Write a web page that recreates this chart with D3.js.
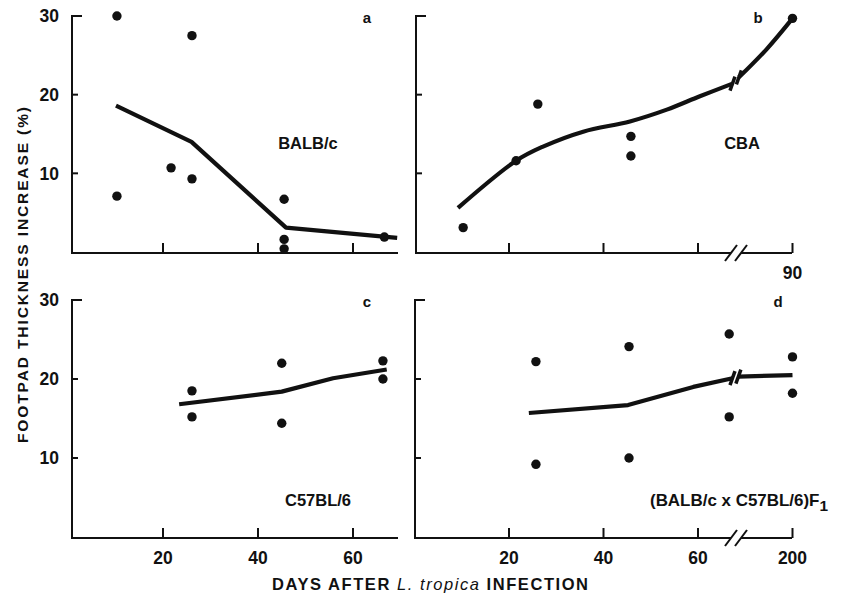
<!DOCTYPE html>
<html>
<head>
<meta charset="utf-8">
<script src="https://cdn.jsdelivr.net/npm/d3@7"></script>
<style>
  html, body { margin: 0; padding: 0; background: #fff; }
  svg { display: block; }
  text { font-family: "Liberation Sans", Arial, Helvetica, sans-serif; font-weight: bold; fill: #111; }
</style>
</head>
<body>
<svg id="chart" width="841" height="599"></svg>
<script>
// ---------------- DATA ----------------
const yTicks = [10, 20, 30];
const xTicksLeft = [20, 40, 60];
const xTicksRight = [20, 40, 60];
const breakTickB = 90;
const breakTickD = 200;

// Panel a: BALB/c
const pointsA = [[10.3, 30], [10.3, 7.1], [26.1, 27.5], [21.7, 10.7], [26.1, 9.3], [45.5, 6.7], [45.5, 1.6], [45.5, 0.4], [66.6, 1.9]];
const lineA = [[10.1, 18.6], [26, 14], [45.9, 3.1], [69.3, 1.8]];

// Panel b: CBA
const pointsB = [[10.3, 3.1], [21.5, 11.6], [26.1, 18.8], [45.8, 14.7], [45.8, 12.2], [90, 29.7]];
const lineB1 = [[9.2, 5.6], [21.5, 11.6], [27.2, 13.4], [35.7, 15.3], [45.6, 16.6], [53.4, 18.1], [60.4, 19.8], [67.3, 21.4]];
const lineB2 = [[69.2, 22.2], [80, 25.8], [90, 29.7]];

// Panel c: C57BL/6
const pointsC = [[26.1, 18.5], [26.1, 15.2], [45, 22], [45, 14.4], [66.3, 22.3], [66.3, 20.0]];
const lineC = [[23.4, 16.8], [45, 18.4], [55.8, 20.1], [67.1, 21.2]];

// Panel d: (BALB/c x C57BL/6)F1
const pointsD = [[25.7, 22.2], [25.7, 9.2], [45.4, 24.1], [45.4, 10.0], [66.6, 25.7], [66.6, 15.2], [200, 22.8], [200, 18.2]];
const lineD1 = [[24.2, 15.7], [45.2, 16.7], [59, 19.0], [67.3, 20.1]];
const lineD2 = [[74, 20.3], [200, 20.5]];

const strains = ["BALB/c", "CBA", "C57BL/6", "(BALB/c x C57BL/6)F"];
const panelLetters = ["a", "b", "c", "d"];
const yTitle = "FOOTPAD THICKNESS INCREASE (%)";

// ---------------- SCALES ----------------
const svg = d3.select("#chart");
const ink = "#111";

const xLeft = d3.scaleLinear().domain([0, 70]).range([68, 400.5]);
const xB = d3.scaleLinear().domain([0, 68, 90]).range([414.5, 735.8, 792.5]);
const xD = d3.scaleLinear().domain([0, 68, 200]).range([414.5, 735.8, 792.5]);
const yTop = d3.scaleLinear().domain([0, 30]).range([252, 16]);
const yBot = d3.scaleLinear().domain([0, 30]).range([537, 300]);

const panels = [
  { x: xLeft, y: yTop, pts: pointsA, lines: [lineA], curve: d3.curveLinear, x0: 72, x1: 398, ticks: xTicksLeft, xLabels: false, yLabels: true, brk: null, letter: panelLetters[0] },
  { x: xB, y: yTop, pts: pointsB, lines: [lineB1, lineB2], curve: d3.curveCatmullRom, x0: 416, x1: 792, ticks: xTicksRight.concat([breakTickB]), xLabels: false, yLabels: false, brk: breakTickB, letter: panelLetters[1] },
  { x: xLeft, y: yBot, pts: pointsC, lines: [lineC], curve: d3.curveLinear, x0: 72, x1: 398, ticks: xTicksLeft, xLabels: true, yLabels: true, brk: null, letter: panelLetters[2] },
  { x: xD, y: yBot, pts: pointsD, lines: [lineD1, lineD2], curve: d3.curveLinear, x0: 415, x1: 792, ticks: xTicksRight.concat([breakTickD]), xLabels: true, yLabels: false, brk: breakTickD, letter: panelLetters[3] }
];

panels.forEach((p, i) => {
  const g = svg.append("g");
  const yAxisBase = p.y(0) + 1;

  // y axis line with inward ticks
  g.append("line").attr("x1", p.x0).attr("x2", p.x0)
    .attr("y1", p.y(30) - 1).attr("y2", yAxisBase + 1)
    .attr("stroke", ink).attr("stroke-width", 2);
  g.selectAll(".yt").data(yTicks).enter().append("line")
    .attr("x1", p.x0).attr("x2", d => p.x0 + (d === 30 ? 10 : 6))
    .attr("y1", d => p.y(d)).attr("y2", d => p.y(d))
    .attr("stroke", ink).attr("stroke-width", 2);
  if (p.yLabels) {
    g.selectAll(".yl").data(yTicks).enter().append("text")
      .attr("x", p.x0 - 13).attr("y", d => p.y(d))
      .attr("dy", "0.36em").attr("text-anchor", "end")
      .attr("font-size", 17.5).text(d => d);
  }

  // x axis line (with break if needed)
  if (p.brk === null) {
    g.append("line").attr("x1", p.x0 - 1).attr("x2", p.x1)
      .attr("y1", yAxisBase).attr("y2", yAxisBase)
      .attr("stroke", ink).attr("stroke-width", 2);
  } else {
    g.append("line").attr("x1", p.x0 - 1).attr("x2", 731)
      .attr("y1", yAxisBase).attr("y2", yAxisBase).attr("stroke", ink).attr("stroke-width", 2);
    g.append("line").attr("x1", 741).attr("x2", p.x1)
      .attr("y1", yAxisBase).attr("y2", yAxisBase).attr("stroke", ink).attr("stroke-width", 2);
    [731, 741].forEach(bx => {
      g.append("line").attr("x1", bx - 6).attr("x2", bx + 6)
        .attr("y1", yAxisBase + 8).attr("y2", yAxisBase - 8)
        .attr("stroke", ink).attr("stroke-width", 2);
    });
  }
  g.selectAll(".xt").data(p.ticks).enter().append("line")
    .attr("x1", d => p.x(d)).attr("x2", d => p.x(d))
    .attr("y1", yAxisBase).attr("y2", yAxisBase - 10)
    .attr("stroke", ink).attr("stroke-width", 2);
  const labelTicks = p.xLabels ? p.ticks : (p.brk !== null ? [p.brk] : []);
  g.selectAll(".xl").data(labelTicks).enter().append("text")
    .attr("x", d => p.x(d)).attr("y", yAxisBase + 20)
    .attr("dy", "0.36em").attr("text-anchor", "middle")
    .attr("font-size", 17.5).text(d => d);

  // lines
  const lineGen = d3.line().x(d => p.x(d[0])).y(d => p.y(d[1])).curve(p.curve);
  p.lines.forEach(ld => {
    g.append("path").attr("d", lineGen(ld))
      .attr("fill", "none").attr("stroke", ink).attr("stroke-width", 4.2)
      .attr("stroke-linejoin", "round");
  });
  // break slashes on the curve
  if (p.lines.length > 1) {
    const end1 = p.lines[0][p.lines[0].length - 1];
    const st2 = p.lines[1][0];
    [[p.x(end1[0]), p.y(end1[1])], [p.x(st2[0]), p.y(st2[1])]].forEach(([cx, cy]) => {
      g.append("line").attr("x1", cx - 2.5).attr("x2", cx + 2.5)
        .attr("y1", cy + 7).attr("y2", cy - 7)
        .attr("stroke", ink).attr("stroke-width", 3.5);
    });
  }

  // points
  g.selectAll(".pt").data(p.pts).enter().append("circle")
    .attr("cx", d => p.x(d[0])).attr("cy", d => p.y(d[1]))
    .attr("r", 4.7).attr("fill", ink);

  // panel letter
  g.append("text").attr("x", i % 2 === 0 ? 367 : (i === 1 ? 758 : 778))
    .attr("y", p.y(30) + 2).attr("dy", "0.36em").attr("text-anchor", "middle")
    .attr("font-size", 15).text(p.letter);
});

// strain labels
const sFont = 16.5;
svg.append("text").attr("x", 308).attr("y", yTop(13.8)).attr("dy", "0.36em")
  .attr("text-anchor", "middle").attr("font-size", sFont).text(strains[0]);
svg.append("text").attr("x", 742).attr("y", yTop(13.8)).attr("dy", "0.36em")
  .attr("text-anchor", "middle").attr("font-size", sFont).text(strains[1]);
svg.append("text").attr("x", 318).attr("y", yBot(4.7)).attr("dy", "0.36em")
  .attr("text-anchor", "middle").attr("font-size", sFont).text(strains[2]);
const fl = svg.append("text").attr("x", 650).attr("y", yBot(4.7)).attr("dy", "0.36em")
  .attr("text-anchor", "start").attr("font-size", sFont)
  .attr("textLength", 178).attr("lengthAdjust", "spacingAndGlyphs");
fl.append("tspan").text(strains[3]);
fl.append("tspan").attr("dy", "5").attr("font-size", 15).text("1");

// y title
svg.append("text")
  .attr("transform", "translate(28,275) rotate(-90)")
  .attr("text-anchor", "middle").attr("font-size", 15.5)
  .attr("textLength", 336).attr("lengthAdjust", "spacing")
  .text(yTitle);

// x title
const xt = svg.append("text").attr("x", 272).attr("y", 590)
  .attr("font-size", 16.5).attr("textLength", 316).attr("lengthAdjust", "spacing");
xt.append("tspan").text("DAYS AFTER ");
xt.append("tspan").attr("font-style", "italic").attr("font-weight", "normal").text("L. tropica");
xt.append("tspan").text(" INFECTION");
</script>
</body>
</html>
